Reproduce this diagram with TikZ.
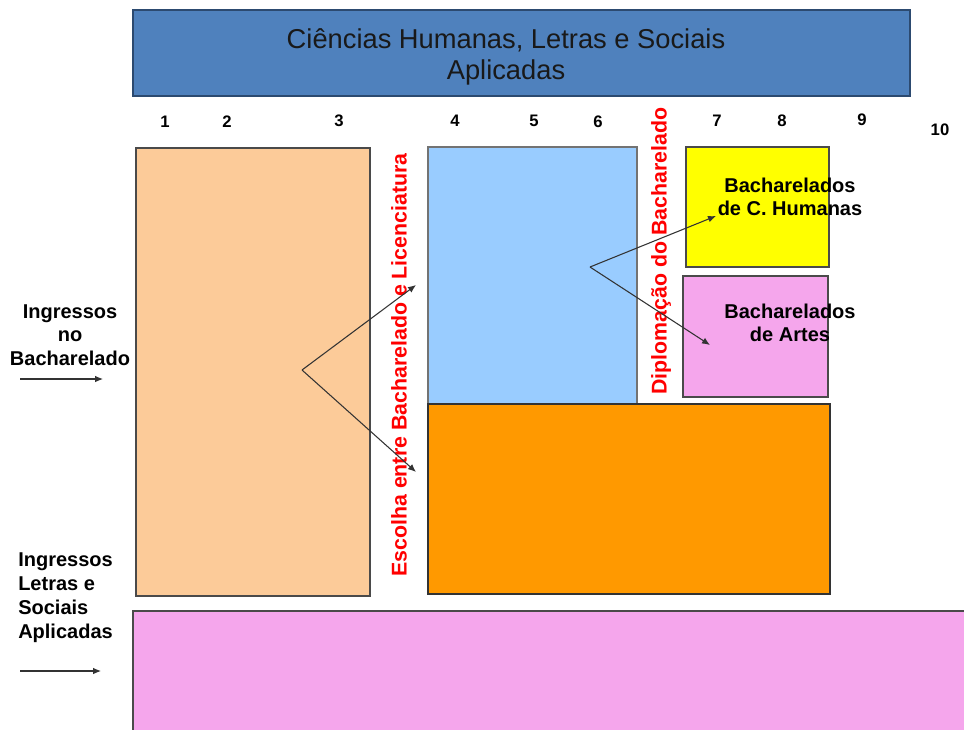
\documentclass[tikz,border=0pt]{standalone}
\usepackage{fontspec}
\setmainfont{Liberation Sans}
\usetikzlibrary{fit,arrows.meta}
\definecolor{titleblue}{HTML}{4F81BD}
\definecolor{titleedge}{HTML}{2C4A70}
\definecolor{peach}{HTML}{FCCB99}
\definecolor{lightblue}{HTML}{99CCFF}
\definecolor{orangefill}{HTML}{FF9900}
\definecolor{pinkfill}{HTML}{F5A6EC}
\definecolor{yellowfill}{HTML}{FFFF00}
\definecolor{edgegray}{HTML}{4A4A4A}
\definecolor{redtext}{HTML}{FF0000}
\tikzset{
  box/.style={inner sep=0pt, draw=edgegray, line width=1.1pt},
  num/.style={font=\bfseries\fontsize{12.5}{14}\selectfont, inner sep=0pt},
  lbl/.style={font=\bfseries\fontsize{15}{17.5}\selectfont, inner sep=0pt, align=center},
  redlbl/.style={font=\bfseries\fontsize{16}{18}\selectfont, text=redtext, rotate=90, inner sep=0pt},
  conn/.style={draw=black!80, line width=0.8pt, -{Latex[length=6pt,width=5pt]}},
}
\begin{document}
\begin{tikzpicture}[x=0.75pt,y=-0.75pt]
\useasboundingbox (0,0) rectangle (964,729);
% title bar
\node[fit={(133,10)(910,96)}, inner sep=0pt, draw=titleedge, line width=0.9pt, fill=titleblue] (title) {};
\node[font=\fontsize{19.5}{22.5}\selectfont, align=center, text=black!90, xscale=1.05, yscale=1.05] (titletext) at (506,57) {Ciências Humanas, Letras e Sociais\\Aplicadas};
% numbers
\node[num] (n1) at (165,122) {1};
\node[num] (n2) at (227,122) {2};
\node[num] (n3) at (339,121) {3};
\node[num] (n4) at (455,121) {4};
\node[num] (n5) at (534,121) {5};
\node[num] (n6) at (598,122) {6};
\node[num] (n7) at (717,121) {7};
\node[num] (n8) at (782,121) {8};
\node[num] (n9) at (862,120) {9};
\node[num] (n10) at (940,130) {10};
% boxes
\node[box, fit={(136,148)(370,596)}, fill=peach] (peachbox) {};
\node[box, fit={(428,147)(637,404)}, fill=lightblue, draw=black!55] (bluebox) {};
\node[box, fit={(428,404)(830,594)}, fill=orangefill, draw=black!80] (orangebox) {};
\node[box, fit={(686,147)(829,267)}, fill=yellowfill] (yellowbox) {};
\node[box, fit={(683,276)(828,397)}, fill=pinkfill] (pinkbox) {};
\node[box, fit={(133,611)(966,731)}, fill=pinkfill] (bottombox) {};
% box texts
\node[lbl] (bch) at (790,197) {Bacharelados\\de C. Humanas};
\node[lbl] (bart) at (790,323) {Bacharelados\\de Artes};
% red vertical labels
\node[redlbl] (escolha) at (399,365) {Escolha entre Bacharelado e Licenciatura};
\node[redlbl] (diplo) at (661,251) {Diplomação do Bacharelado};
% left labels
\node[lbl] (ingbach) at (70,335) {Ingressos\\no\\Bacharelado};
\node[lbl, align=left, anchor=north west, font=\bfseries\fontsize{15}{18}\selectfont] (ingletras) at (18,552) {Ingressos\\Letras e\\Sociais\\Aplicadas};
\coordinate (a1s) at (20,379);
\coordinate (a1e) at (103,379);
\coordinate (a2s) at (20,671);
\coordinate (a2e) at (101,671);
\draw[conn] (a1s) -- (a1e);
\draw[conn] (a2s) -- (a2e);
% branching arrows
\coordinate (split1) at (302,370);
\coordinate (t1) at (416,285);
\coordinate (t2) at (416,472);
\draw[conn] (split1) -- (t1);
\draw[conn] (split1) -- (t2);
\coordinate (split2) at (590,267);
\coordinate (t3) at (716,216);
\coordinate (t4) at (710,345);
\draw[conn] (split2) -- (t3);
\draw[conn] (split2) -- (t4);
\end{tikzpicture}
\end{document}
